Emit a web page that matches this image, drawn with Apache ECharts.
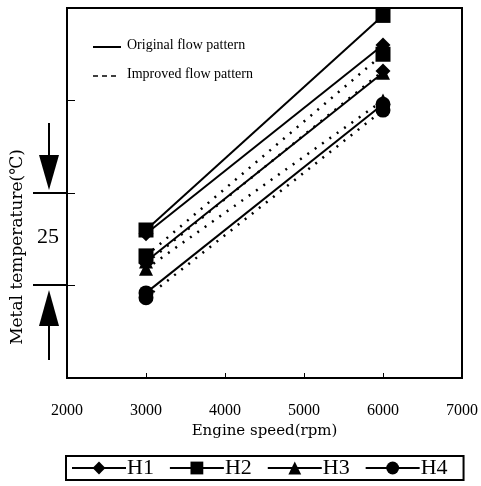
<!DOCTYPE html>
<html>
<head>
<meta charset="utf-8">
<script src="https://cdn.jsdelivr.net/npm/echarts@6/dist/echarts.min.js"></script>
<style>
  html, body { margin: 0; padding: 0; background: #fff; }
  #chart { width: 481px; height: 486px; }
</style>
</head>
<body>
<div id="chart"></div>
<script>
// engine speeds (rpm)
const speeds = [3000, 6000]
const xTicks = [2000, 3000, 4000, 5000, 6000, 7000]

// metal temperature, relative units (25 = one bracket)
const h1Original = [39, 90]
const h1Improved = [31, 83]
const h2Original = [40, 98]
const h2Improved = [33, 87.5]
const h3Original = [31.5, 82.5]
const h3Improved = [29.5, 75]
const h4Original = [23, 74]
const h4Improved = [21.7, 72.4]

const names = ['H1', 'H2', 'H3', 'H4']

const font = 'Liberation Serif'
const wideFont = 'DejaVu Serif'

function makeSeries(name, symbol, values, dashed) {
  return {
    name: name,
    type: 'line',
    data: values.map((v, i) => [speeds[i], v]),
    symbol: symbol,
    symbolSize: symbol === 'triangle' ? 14 : 15,
    itemStyle: { color: '#000' },
    lineStyle: {
      color: '#000',
      width: dashed ? 2.5 : 2,
      type: dashed ? [2, 7] : 'solid'
    },
    z: dashed ? 2 : 3
  }
}

const chart = echarts.init(document.getElementById('chart'))

const option = {
  animation: false,
  backgroundColor: '#fff',
  grid: {
    left: 67,
    right: 15,
    top: 8,
    bottom: 108,
    show: true,
    borderColor: '#000',
    borderWidth: 2
  },
  legend: {
    data: names,
    top: 456,
    left: 66,
    borderColor: '#000',
    borderWidth: 2,
    padding: [1, 16, 1, 5],
    itemGap: 15,
    itemWidth: 54,
    itemHeight: 16,
    textStyle: { fontFamily: font, fontSize: 22, color: '#000', padding: [0, 0, 0, -4] }
  },
  xAxis: {
    type: 'value',
    min: 2000,
    max: 7000,
    interval: 1000,
    name: 'Engine speed(rpm)',
    nameLocation: 'middle',
    nameGap: 42,
    nameTextStyle: { fontFamily: wideFont, fontSize: 15, color: '#000' },
    axisLine: { lineStyle: { color: '#000', width: 2 } },
    axisTick: { inside: true, length: 5, lineStyle: { color: '#000' } },
    axisLabel: {
      margin: 25,
      fontFamily: font,
      fontSize: 16,
      color: '#000',
      formatter: v => xTicks.includes(v) ? String(v) : ''
    },
    splitLine: { show: false }
  },
  yAxis: {
    type: 'value',
    min: 0,
    max: 100,
    interval: 25,
    axisLine: { lineStyle: { color: '#000', width: 2 } },
    axisTick: { inside: true, length: 8, lineStyle: { color: '#000' } },
    axisLabel: { show: false },
    splitLine: { show: false }
  },
  graphic: [
    // y axis title, placed off-centre like the original
    {
      type: 'text', x: 18, y: 247, rotation: Math.PI / 2,
      style: { text: 'Metal temperature(℃)', font: '17px ' + wideFont, fill: '#000', align: 'center', verticalAlign: 'middle' }
    },
    // inner key for line styles
    { type: 'line', shape: { x1: 93, y1: 47, x2: 121, y2: 47 }, style: { stroke: '#000', lineWidth: 2 } },
    { type: 'text', left: 127, top: 38, style: { text: 'Original flow pattern', font: '14px ' + font, fill: '#000' } },
    { type: 'line', shape: { x1: 93, y1: 76, x2: 119, y2: 76 }, style: { stroke: '#000', lineWidth: 1.5, lineDash: [5, 4] } },
    { type: 'text', left: 127, top: 67, style: { text: 'Improved flow pattern', font: '14px ' + font, fill: '#000' } },
    // 25 degree bracket on the left
    { type: 'line', shape: { x1: 33, y1: 193, x2: 67, y2: 193 }, style: { stroke: '#000', lineWidth: 2 } },
    { type: 'line', shape: { x1: 33, y1: 285, x2: 67, y2: 285 }, style: { stroke: '#000', lineWidth: 2 } },
    { type: 'line', shape: { x1: 49, y1: 123, x2: 49, y2: 160 }, style: { stroke: '#000', lineWidth: 2 } },
    { type: 'polygon', shape: { points: [[39, 155], [59, 155], [49, 190]] }, style: { fill: '#000' } },
    { type: 'line', shape: { x1: 49, y1: 320, x2: 49, y2: 360 }, style: { stroke: '#000', lineWidth: 2 } },
    { type: 'polygon', shape: { points: [[49, 290], [39, 326], [59, 326]] }, style: { fill: '#000' } },
    { type: 'text', left: 37, top: 226, style: { text: '25', font: '22px ' + font, fill: '#000' } }
  ],
  series: [
    makeSeries('H1', 'diamond', h1Original, false),
    makeSeries('H2', 'rect', h2Original, false),
    makeSeries('H3', 'triangle', h3Original, false),
    makeSeries('H4', 'circle', h4Original, false),
    makeSeries('H1', 'diamond', h1Improved, true),
    makeSeries('H2', 'rect', h2Improved, true),
    makeSeries('H3', 'triangle', h3Improved, true),
    makeSeries('H4', 'circle', h4Improved, true)
  ]
}

chart.setOption(option)
</script>
</body>
</html>
